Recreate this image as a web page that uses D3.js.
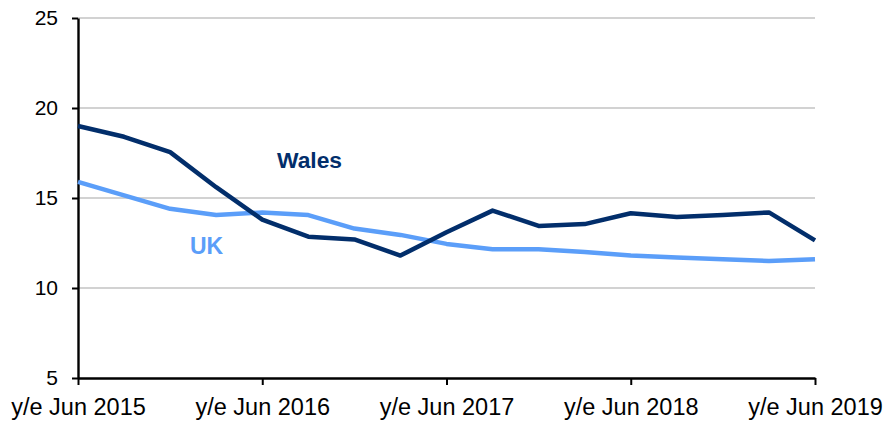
<!DOCTYPE html>
<html>
<head>
<meta charset="utf-8">
<script src="https://cdn.jsdelivr.net/npm/d3@7"></script>
<style>
  body { margin: 0; background: #fff; }
  svg { display: block; font-family: "Liberation Sans", Arial, sans-serif; }
</style>
</head>
<body>
<svg id="chart" width="885" height="423"></svg>
<script>
// quarterly points, y/e Jun 2015 .. y/e Jun 2019
var quarters = d3.range(17);
var walesValues = [19.0, 18.4, 17.55, 15.6, 13.8, 12.85, 12.7, 11.8, 13.1, 14.3, 13.45, 13.55, 14.15, 13.95, 14.05, 14.2, 12.65];
var ukValues = [15.9, 15.15, 14.4, 14.05, 14.2, 14.05, 13.3, 12.95, 12.45, 12.15, 12.15, 12.0, 11.8, 11.7, 11.6, 11.5, 11.6];
var yTicks = [5, 10, 15, 20, 25];
var xTickIdx = [0, 4, 8, 12, 16];
var xTickLabels = ["y/e Jun 2015", "y/e Jun 2016", "y/e Jun 2017", "y/e Jun 2018", "y/e Jun 2019"];

function drawChart(){
    var svg = d3.select("#chart");
    var mLeft = 78, mRight = 815, mTop = 18, mBottom = 378;

    var x = d3.scaleLinear().domain([0, 16]).range([mLeft, mRight]);
    var y = d3.scaleLinear().domain([5, 25]).range([mBottom, mTop]);

    // gridlines
    svg.append("g")
        .selectAll("line")
        .data(yTicks.filter(function(d){ return d > 5; }))
        .enter().append("line")
        .attr("x1", mLeft).attr("x2", mRight)
        .attr("y1", function(d){ return y(d); })
        .attr("y2", function(d){ return y(d); })
        .attr("stroke", "#a6a6a6")
        .attr("stroke-width", 1.2);

    // y axis
    var yAxis = svg.append("g")
        .attr("transform", "translate(" + mLeft + ",0)")
        .call(d3.axisLeft(y).tickValues(yTicks).tickSize(6).tickSizeOuter(0).tickPadding(14));
    yAxis.select(".domain").attr("stroke", "#000").attr("stroke-width", 2.4);
    yAxis.selectAll(".tick line").attr("stroke", "#000").attr("stroke-width", 2);
    yAxis.selectAll("text").attr("font-size", "21px").attr("fill", "#000")
        .attr("font-family", "Liberation Sans, Arial, sans-serif");

    // x axis
    var xAxis = svg.append("g")
        .attr("transform", "translate(0," + mBottom + ")")
        .call(d3.axisBottom(x).tickValues(xTickIdx)
            .tickFormat(function(d, i){ return xTickLabels[i]; })
            .tickSize(7).tickSizeOuter(0).tickPadding(13));
    xAxis.select(".domain").attr("stroke", "#000").attr("stroke-width", 2.4);
    xAxis.selectAll(".tick line").attr("stroke", "#000").attr("stroke-width", 2);
    xAxis.selectAll("text").attr("font-size", "23.5px").attr("fill", "#000")
        .attr("font-family", "Liberation Sans, Arial, sans-serif");

    var line = d3.line()
        .x(function(d, i){ return x(quarters[i]); })
        .y(function(d){ return y(d); });

    svg.append("path")
        .datum(ukValues)
        .attr("d", line)
        .attr("fill", "none")
        .attr("stroke", "#5b9ef9")
        .attr("stroke-width", 4.5)
        .attr("stroke-linejoin", "round");

    svg.append("path")
        .datum(walesValues)
        .attr("d", line)
        .attr("fill", "none")
        .attr("stroke", "#022e6b")
        .attr("stroke-width", 4.5)
        .attr("stroke-linejoin", "round");

    // series labels
    svg.append("text")
        .attr("x", 277).attr("y", 168)
        .attr("font-size", "22.8px").attr("font-weight", "bold")
        .attr("fill", "#022e6b")
        .text("Wales");

    svg.append("text")
        .attr("x", 190).attr("y", 254)
        .attr("font-size", "23px").attr("font-weight", "bold")
        .attr("fill", "#5b9ef9")
        .text("UK");
}

drawChart();
</script>
</body>
</html>
